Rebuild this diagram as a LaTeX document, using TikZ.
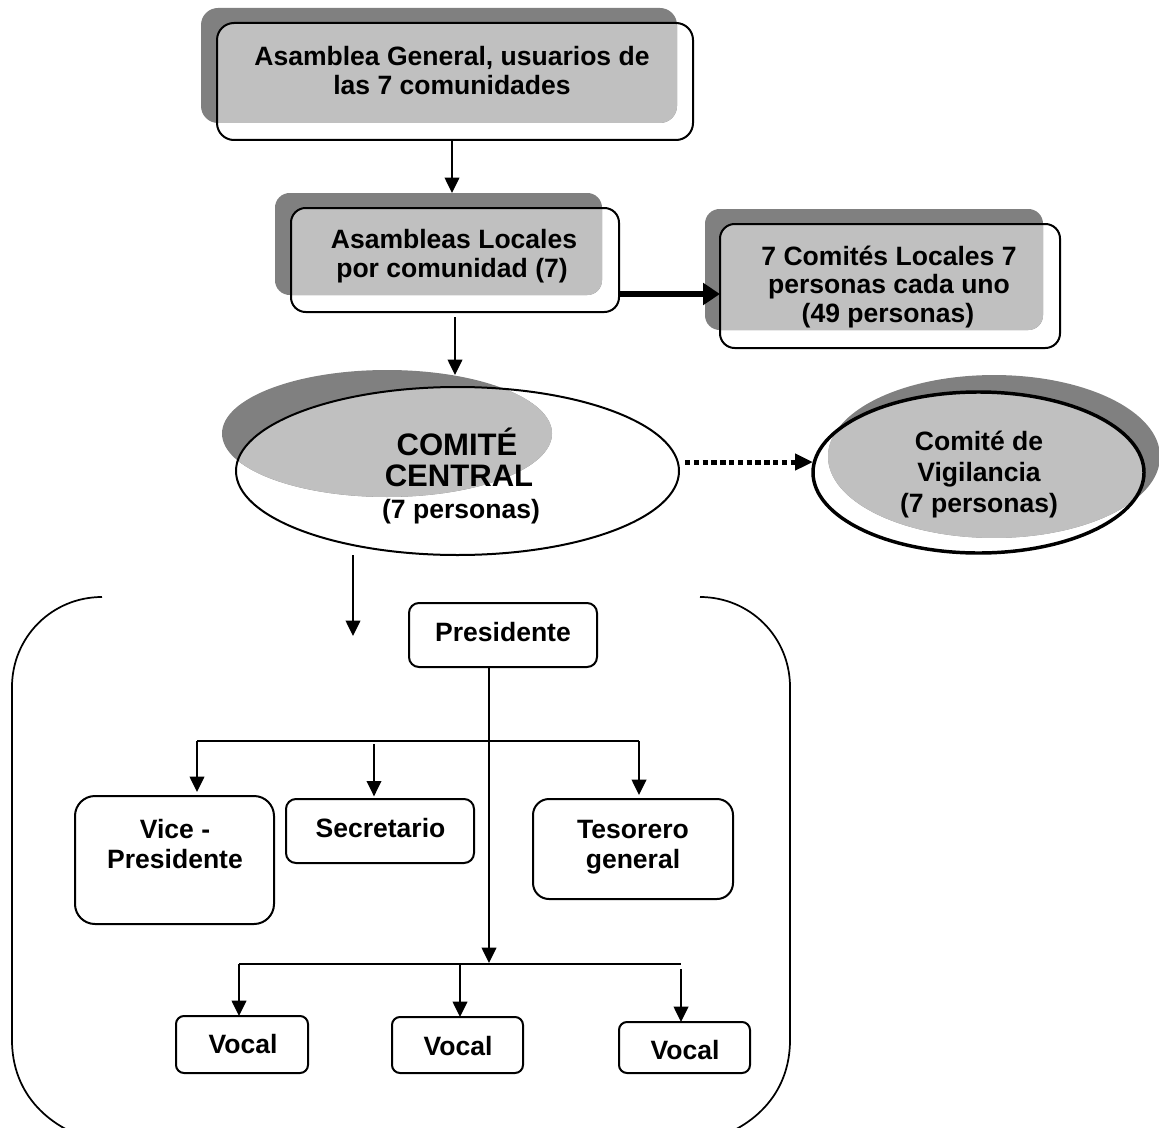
\documentclass[tikz,border=0pt]{standalone}
\usepackage{fontspec}
\setmainfont{Liberation Sans}
\usetikzlibrary{arrows.meta,shapes.geometric,fit}
\definecolor{shadowdark}{HTML}{808080}
\definecolor{shadowlight}{HTML}{C0C0C0}
\begin{document}
\begin{tikzpicture}[x=0.75pt,y=-0.75pt,
  txt/.style={font=\fontsize{19.9pt}{24pt}\selectfont\bfseries, anchor=base, inner sep=0pt},
  bigtxt/.style={font=\fontsize{23.3pt}{28pt}\selectfont\bfseries, anchor=base, inner sep=0pt},
  ln/.style={line width=1.1pt},
  arr/.style={line width=1.1pt,-{Triangle[length=11.5pt,width=11pt]}},
  boxn/.style={draw, line width=1.5pt, inner sep=0pt, outer sep=0pt},
  shad/.style={fill=shadowdark, inner sep=0pt, outer sep=0pt},
]
\useasboundingbox (0,0) rectangle (1159,1127);

% ---------- Asamblea General ----------
\node[shad, rounded corners=12.75pt, fit={(201,8) (677,123)}] (genS) {};
\begin{scope}
  \clip[rounded corners=12.75pt] (217,23) rectangle (693,140);
  \fill[shadowlight, rounded corners=12.75pt] (201,8) rectangle (677,123);
\end{scope}
\node[boxn, rounded corners=12.75pt, fit={(217,23) (693,140)}] (gen) {};
\node[txt] (genT1) at (452,66) {Asamblea General, usuarios de};
\node[txt] (genT2) at (452,95) {las 7 comunidades};

% ---------- Asambleas Locales ----------
\node[shad, rounded corners=11pt, fit={(275,193) (602,295)}] (locS) {};
\begin{scope}
  \clip[rounded corners=11pt] (291,208) rectangle (619,312);
  \fill[shadowlight, rounded corners=11pt] (275,193) rectangle (602,295);
\end{scope}
\node[boxn, rounded corners=11pt, fit={(291,208) (619,312)}] (loc) {};
\node[txt] (locT1) at (454,248) {Asambleas Locales};
\node[txt] (locT2) at (452,277) {por comunidad (7)};

% ---------- Comites Locales ----------
\node[shad, rounded corners=11pt, fit={(705,209) (1043,330)}] (comS) {};
\begin{scope}
  \clip[rounded corners=11pt] (720,224) rectangle (1060,348);
  \fill[shadowlight, rounded corners=11pt] (705,209) rectangle (1043,330);
\end{scope}
\node[boxn, rounded corners=11pt, fit={(720,224) (1060,348)}] (com) {};
\node[txt] (comT1) at (889,265) {7 Comités Locales 7};
\node[txt] (comT2) at (889,293) {personas cada uno};
\node[txt] (comT3) at (888,322) {(49 personas)};

% ---------- Comite Central ----------
\node[shad, ellipse, minimum width=247.5pt, minimum height=95.25pt] (ccS) at (387,433.5) {};
\begin{scope}
  \clip (457.5,471) ellipse [x radius=166.1pt, y radius=63pt];
  \fill[shadowlight] (387,433.5) ellipse [x radius=123.75pt, y radius=47.6pt];
\end{scope}
\node[boxn, ellipse, minimum width=332.25pt, minimum height=126pt] (cc) at (457.5,471) {};
\node[bigtxt] (ccT1) at (457,455) {COMITÉ};
\node[bigtxt] (ccT2) at (459,486) {CENTRAL};
\node[txt] (ccT3) at (461,518) {(7 personas)};

% ---------- Comite de Vigilancia ----------
\node[shad, ellipse, minimum width=249pt, minimum height=122.2pt] (vigS) at (994,456.5) {};
\begin{scope}
  \clip (978.5,472.5) ellipse [x radius=124.1pt, y radius=60.4pt];
  \fill[shadowlight] (994,456.5) ellipse [x radius=124.5pt, y radius=61.1pt];
\end{scope}
\node[boxn, ellipse, line width=2.6pt, minimum width=248.25pt, minimum height=120.75pt] (vig) at (978.5,472.5) {};
\node[txt] (vigT1) at (979,450) {Comité de};
\node[txt] (vigT2) at (979,481) {Vigilancia};
\node[txt] (vigT3) at (979,512) {(7 personas)};

% ---------- bracket ----------
\draw[line width=1.3pt] (102,597) .. controls (52,597) and (12,637) .. (12,687) -- (12,1040) .. controls (12,1095) and (50,1130) .. (100,1142);
\draw[line width=1.3pt] (700,597) .. controls (750,597) and (790,637) .. (790,687) -- (790,1040) .. controls (790,1095) and (752,1130) .. (702,1142);

% ---------- lower boxes ----------
\node[boxn, rounded corners=7.5pt, fit={(409,603) (597,667)}] (pres) {};
\node[txt] (presT) at (503,641) {Presidente};
\node[boxn, rounded corners=15pt, fit={(75,796) (274,924)}] (vice) {};
\node[txt] (viceT1) at (175,838) {Vice -};
\node[txt] (viceT2) at (175,868) {Presidente};
\node[boxn, rounded corners=7.5pt, fit={(286,799) (474,863)}] (secr) {};
\node[txt] (secrT) at (380.5,837) {Secretario};
\node[boxn, rounded corners=12pt, fit={(533,799) (733,899)}] (teso) {};
\node[txt] (tesoT1) at (633,838) {Tesorero};
\node[txt] (tesoT2) at (633,868) {general};
\node[boxn, rounded corners=6pt, fit={(176,1016) (308,1073)}] (v1) {};
\node[txt] (v1T) at (243,1053) {Vocal};
\node[boxn, rounded corners=6pt, fit={(392,1017) (523,1073)}] (v2) {};
\node[txt] (v2T) at (458,1055) {Vocal};
\node[boxn, rounded corners=6pt, fit={(619,1022) (750,1073)}] (v3) {};
\node[txt] (v3T) at (685,1059) {Vocal};

% ---------- connectors ----------
\draw[arr] ([xshift=-2.25pt]gen.south) -- ([xshift=-2.25pt]gen.south |- locS.north);
\coordinate (ccTop) at (455,375);
\draw[arr] ([yshift=-3.75pt]loc.south) -- (ccTop);
\draw[line width=3.8pt, -{Triangle[length=12.75pt,width=16pt]}] ([yshift=-25.5pt]loc.east) -- ([yshift=-25.5pt]loc.east -| com.west);
\draw[line width=3.75pt, dash pattern=on 4pt off 2.6pt, -{Triangle[length=13.5pt,width=12pt]}] ([xshift=4.5pt,yshift=6.75pt]cc.east) -- ([yshift=6.75pt]cc.east -| vig.west);
\coordinate (brTip) at (353,636);
\draw[arr] (brTip |- cc.south) -- (brTip);

\coordinate (vj) at (489,963);
\draw[arr] (vj |- pres.south) -- (vj);

\coordinate (hl) at (197,741);
\coordinate (hr) at (639,741);
\coordinate (hs) at (374,744);
\draw[ln] (hl) -- (hr);
\draw[arr, shorten >=3pt] (hl) -- (hl |- vice.north);
\draw[arr, shorten >=2pt] (hs) -- (hs |- secr.north);
\draw[arr, shorten >=3pt] (hr) -- (hr |- teso.north);

\coordinate (vl) at (239,964);
\coordinate (vr) at (681,964);
\coordinate (vm) at (460,964);
\coordinate (vr2) at (681,969);
\draw[ln] (vl) -- (vr);
\draw[arr] (vl) -- (vl |- v1.north);
\draw[arr] (vm) -- (vm |- v2.north);
\draw[arr] (vr2) -- (vr2 |- v3.north);
\end{tikzpicture}
\end{document}
